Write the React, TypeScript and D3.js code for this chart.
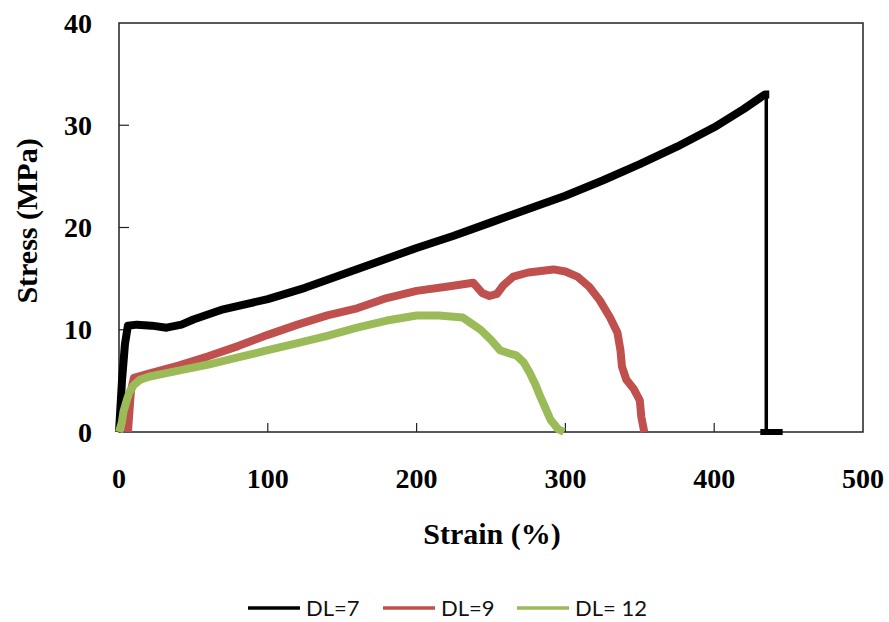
import React, { useEffect, useRef } from "react";
import * as d3 from "d3";

type Pt = [number, number];

const xTicks = [0, 100, 200, 300, 400, 500];
const yTicks = [0, 10, 20, 30, 40];
const seriesNames = ["DL=7", "DL=9", "DL= 12"];
const seriesColors = ["#000000", "#C0504D", "#9BBB59"];

// strain (%), stress (MPa)
const dl7: Pt[] = [
  [0, 0], [2, 5], [4, 8.6], [6, 10.4], [12, 10.5], [22, 10.4], [32, 10.2],
  [42, 10.5], [50, 11.0], [70, 12.0], [100, 13.0], [125, 14.1], [150, 15.4],
  [175, 16.7], [200, 18.0], [225, 19.2], [250, 20.5], [275, 21.8], [300, 23.1],
  [325, 24.6], [350, 26.2], [375, 27.9], [400, 29.8], [420, 31.6], [430, 32.6],
  [434, 33.0], [437, 33.0],
];
const dl7Fracture: Pt[] = [[435, 33.0], [435, 0]];
const dl7Tail: Pt[] = [[431, 0], [446, 0]];

const dl9: Pt[] = [
  [6, 0], [7, 2], [8, 4], [10, 5.3], [20, 5.7], [40, 6.5], [60, 7.4],
  [80, 8.4], [100, 9.5], [120, 10.5], [140, 11.4], [160, 12.1], [180, 13.1],
  [200, 13.8], [220, 14.2], [238, 14.6], [244, 13.6], [249, 13.3], [254, 13.5],
  [258, 14.3], [265, 15.2], [275, 15.6], [292, 15.9], [300, 15.7], [308, 15.2],
  [316, 14.2], [323, 12.9], [330, 11.2], [335, 9.7], [337, 8.0], [338, 6.4],
  [341, 5.1], [346, 4.2], [350, 3.1], [351, 1.5], [353, 0],
];

const dl12: Pt[] = [
  [0, 0], [2, 1], [3, 2], [5, 3], [7, 3.9], [10, 4.6], [14, 5.1], [20, 5.4],
  [40, 6.0], [60, 6.6], [80, 7.3], [100, 8.0], [120, 8.7], [140, 9.4],
  [160, 10.2], [180, 10.9], [200, 11.4], [215, 11.4], [231, 11.2], [237, 10.6],
  [243, 10.0], [250, 9.0], [256, 8.0], [262, 7.7], [267, 7.5], [272, 6.8],
  [276, 5.8], [280, 4.6], [283, 3.5], [287, 2.2], [290, 1.2], [295, 0.3], [299, 0],
];

const W = 889, H = 622;
const serif = "'Times New Roman', 'Liberation Serif', serif";

export default function App() {
  const ref = useRef<SVGSVGElement>(null);

  useEffect(() => {
    document.body.style.margin = "0";
    const svg = d3.select(ref.current);
    svg.selectAll("*").remove();

    const x = d3.scaleLinear().domain([0, 500]).range([119, 863]);
    const y = d3.scaleLinear().domain([0, 40]).range([432, 23]);
    const line = d3.line<Pt>().x(d => x(d[0])).y(d => y(d[1]));

    svg.append("rect").attr("width", W).attr("height", H).attr("fill", "#fff");

    // frame
    svg.append("rect")
      .attr("x", x(0)).attr("y", y(40))
      .attr("width", x(500) - x(0)).attr("height", y(0) - y(40))
      .attr("fill", "none").attr("stroke", "#222").attr("stroke-width", 1.5);

    // ticks (inside)
    svg.append("g").selectAll("line").data(xTicks.slice(1, -1)).enter().append("line")
      .attr("x1", d => x(d)).attr("x2", d => x(d))
      .attr("y1", y(0)).attr("y2", y(0) - 9)
      .attr("stroke", "#222").attr("stroke-width", 1.2);
    svg.append("g").selectAll("line").data(yTicks.slice(1, -1)).enter().append("line")
      .attr("x1", x(0)).attr("x2", x(0) + 10)
      .attr("y1", d => y(d)).attr("y2", d => y(d))
      .attr("stroke", "#222").attr("stroke-width", 1.2);

    // tick labels
    svg.append("g").selectAll("text").data(xTicks).enter().append("text")
      .attr("x", d => x(d)).attr("y", 488)
      .attr("text-anchor", "middle")
      .style("font-family", serif).style("font-weight", "bold").style("font-size", "28px")
      .text(d => d);
    svg.append("g").selectAll("text").data(yTicks).enter().append("text")
      .attr("x", 92).attr("y", d => y(d) + 9.5)
      .attr("text-anchor", "end")
      .style("font-family", serif).style("font-weight", "bold").style("font-size", "28px")
      .text(d => d);

    // axis titles
    svg.append("text")
      .attr("x", 492).attr("y", 544).attr("text-anchor", "middle")
      .style("font-family", serif).style("font-weight", "bold").style("font-size", "30px")
      .text("Strain (%)");
    svg.append("text")
      .attr("transform", "translate(37,221) rotate(-90)").attr("text-anchor", "middle")
      .style("font-family", serif).style("font-weight", "bold").style("font-size", "30px")
      .text("Stress (MPa)");

    // curves
    const curves = [dl7, dl9, dl12];
    curves.forEach((c, i) => {
      svg.append("path").attr("d", line(c))
        .attr("fill", "none").attr("stroke", seriesColors[i])
        .attr("stroke-width", 8).attr("stroke-linejoin", "round");
    });
    svg.append("path").attr("d", line(dl7Fracture))
      .attr("fill", "none").attr("stroke", seriesColors[0]).attr("stroke-width", 3.5);
    svg.append("path").attr("d", line(dl7Tail))
      .attr("fill", "none").attr("stroke", seriesColors[0]).attr("stroke-width", 6);

    // legend
    const legX = [248, 383, 517];
    const lg = svg.append("g");
    seriesNames.forEach((n, i) => {
      lg.append("line")
        .attr("x1", legX[i]).attr("x2", legX[i] + 52)
        .attr("y1", 608).attr("y2", 608)
        .attr("stroke", seriesColors[i]).attr("stroke-width", 3.5);
      lg.append("text")
        .attr("x", legX[i] + 58).attr("y", 615.5)
        .style("font-family", "Lato, 'Noto Sans', sans-serif").style("font-size", "22px")
        .attr("fill", "#111")
        .text(n);
    });
  }, []);

  return <svg ref={ref} width={W} height={H} style={{ display: "block" }} />;
}
